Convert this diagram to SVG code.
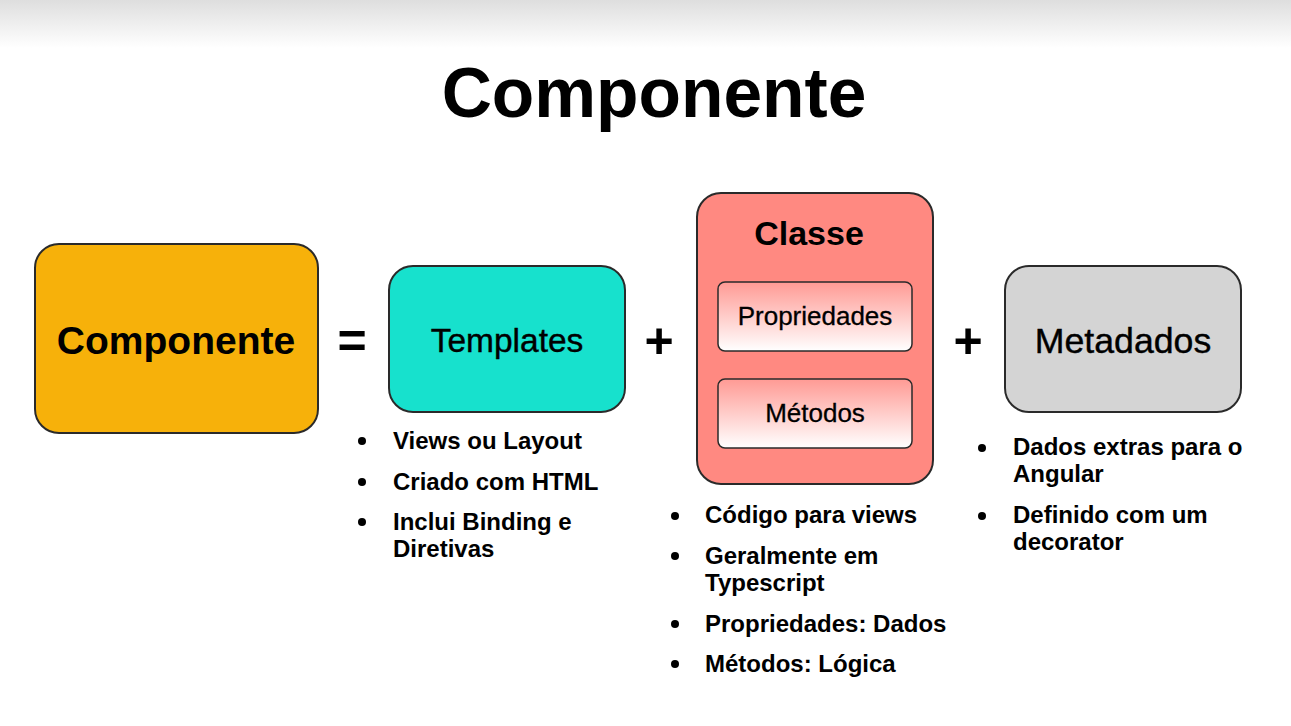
<svg xmlns="http://www.w3.org/2000/svg" width="1291" height="726" viewBox="0 0 1291 726">
  <defs>
    <linearGradient id="topFade" x1="0" y1="0" x2="0" y2="1">
      <stop offset="0" stop-color="#dedede"/>
      <stop offset="1" stop-color="#ffffff"/>
    </linearGradient>
    <linearGradient id="innerFill" x1="0" y1="0" x2="0" y2="1">
      <stop offset="0" stop-color="#ff9a94"/>
      <stop offset="1" stop-color="#ffffff"/>
    </linearGradient>
  </defs>
  <style>
    text { font-family: "Liberation Sans", Arial, sans-serif; fill: #000; }
    .box { stroke: #2a2a2a; stroke-width: 2; }
    .inner { fill: url(#innerFill); stroke: #2a2a2a; stroke-width: 1.5; }
    .bold { font-weight: bold; }
    .op { font-weight: bold; font-size: 50px; text-anchor: middle; }
    .list { font-weight: bold; font-size: 24px; }
    .dot { fill: #000; }
  </style>

  <!-- page background with soft top band -->
  <rect width="1291" height="726" fill="#ffffff"/>
  <rect width="1291" height="48" fill="url(#topFade)"/>

  <text x="654" y="117" class="bold" font-size="69.5" text-anchor="middle">Componente</text>

  <g id="componente">
    <rect class="box" x="35" y="244" width="283" height="189" rx="24" fill="#f7b10a"/>
    <text x="176" y="354" class="bold" font-size="39" text-anchor="middle">Componente</text>
  </g>

  <g id="templates">
    <rect class="box" x="389" y="266" width="236" height="146" rx="24" fill="#17e1cd"/>
    <text x="507" y="352" font-size="33.5" text-anchor="middle" stroke="#000" stroke-width="0.4">Templates</text>
    <circle class="dot" cx="362" cy="441" r="4"/>
    <text x="393" y="449" class="list">Views ou Layout</text>
    <circle class="dot" cx="362" cy="482" r="4"/>
    <text x="393" y="490" class="list">Criado com HTML</text>
    <circle class="dot" cx="362" cy="522" r="4"/>
    <text x="393" y="530" class="list">Inclui Binding e</text>
    <text x="393" y="557" class="list">Diretivas</text>
  </g>

  <g id="classe">
    <rect class="box" x="697" y="193" width="236" height="291" rx="24" fill="#ff8981"/>
    <text x="809" y="245" class="bold" font-size="34" text-anchor="middle">Classe</text>
    <rect class="inner" x="718" y="282" width="194" height="69" rx="7"/>
    <text x="815" y="325" font-size="26" text-anchor="middle" stroke="#000" stroke-width="0.3">Propriedades</text>
    <rect class="inner" x="718" y="379" width="194" height="69" rx="7"/>
    <text x="815" y="422" font-size="26" text-anchor="middle" stroke="#000" stroke-width="0.3">Métodos</text>
    <circle class="dot" cx="675" cy="516" r="4"/>
    <text x="705" y="523" class="list">Código para views</text>
    <circle class="dot" cx="675" cy="556" r="4"/>
    <text x="705" y="564" class="list">Geralmente em</text>
    <text x="705" y="591" class="list">Typescript</text>
    <circle class="dot" cx="675" cy="624" r="4"/>
    <text x="705" y="632" class="list">Propriedades: Dados</text>
    <circle class="dot" cx="675" cy="664" r="4"/>
    <text x="705" y="672" class="list">Métodos: Lógica</text>
  </g>

  <g id="metadados">
    <rect class="box" x="1005" y="266" width="236" height="146" rx="24" fill="#d4d4d4"/>
    <text x="1123" y="353" font-size="35.7" text-anchor="middle" stroke="#000" stroke-width="0.4">Metadados</text>
    <circle class="dot" cx="982" cy="448" r="4"/>
    <text x="1013" y="455" class="list">Dados extras para o</text>
    <text x="1013" y="482" class="list">Angular</text>
    <circle class="dot" cx="982" cy="516" r="4"/>
    <text x="1013" y="523" class="list">Definido com um</text>
    <text x="1013" y="550" class="list">decorator</text>
  </g>

  <!-- operators between the parts -->
  <g id="connectors">
    <text x="352" y="358" class="op">=</text>
    <text x="659" y="358" class="op">+</text>
    <text x="968" y="358" class="op">+</text>
  </g>
</svg>
